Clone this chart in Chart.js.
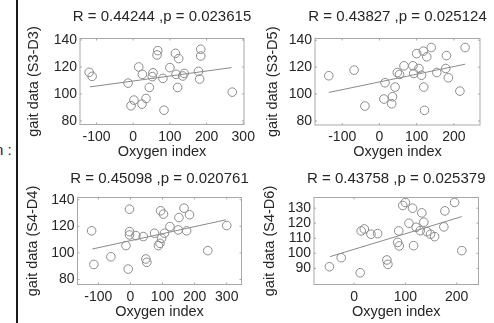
<!DOCTYPE html>
<html>
<head>
<meta charset="utf-8">
<script src="https://cdn.jsdelivr.net/npm/chart.js@4/dist/chart.umd.min.js"></script>
<style>
  body { margin: 0; background: #fff; width: 494px; height: 323px; position: relative; overflow: hidden;
         font-family: "Liberation Sans", Arial, sans-serif; }
  canvas { position: absolute; }
  #rule { position: absolute; left: 16px; top: 0; width: 2px; height: 323px; background: #1a1a1a; }
  #lbl { position: absolute; left: -5px; top: 141px; font-size: 15px; color: #222; }
</style>
</head>
<body>
<div id="rule"></div>
<div id="lbl">n :</div>
<canvas id="c1"></canvas>
<canvas id="c2"></canvas>
<canvas id="c3"></canvas>
<canvas id="c4"></canvas>
<script>
// S3-D3
const x1 = [-120, -112, -14, 15, 25, 2, -6, 24, 35, 44, 54, 52, 67, 65, 81, 84, 100, 115, 124, 117, 121, 139, 135, 178, 181, 184, 184, 270];
const y1 = [116, 113, 108, 120, 114.5, 95.4, 91.2, 92.4, 96.6, 104.8, 115.7, 112.8, 132.1, 128.9, 111.5, 87.9, 119.5, 130.1, 126.2, 114.5, 104.8, 115.2, 113.3, 116.7, 111, 133.1, 128.1, 101.3];
const fitX1 = [-118, 268];
const fitY1 = [105.2, 119.5];

// S3-D5
const x2 = [-136, -68, -39, 12, 15, 33, 35, 42, 48, 54, 66, 90, 92, 100, 106, 113, 118, 127, 119, 121, 139, 154, 180, 178, 185, 216, 230];
const y2 = [113.6, 117.8, 91.1, 96.3, 108.4, 92.8, 98, 105.2, 116, 114.6, 121, 121, 115.3, 130.1, 119, 114, 131.9, 127.7, 105.2, 87.9, 134.6, 116, 128.6, 119, 112.1, 102.2, 134.6];
const fitX2 = [-136, 230];
const fitY2 = [101.2, 122.2];

// S4-D4
const x3 = [-121, -114, -61, -14, -3, -7, -3, -3, 17, 40, 48, 51, 75, 87, 92, 94, 103, 97, 106, 123, 149, 151, 167, 175, 184, 241, 300];
const y3 = [116.6, 91.3, 97.1, 105.5, 132.9, 87.8, 116, 113.5, 113, 112.3, 95.4, 92.9, 114.8, 105.5, 107.2, 131.7, 129.2, 111, 114.8, 119.8, 117.3, 126.6, 133.7, 116.6, 128.7, 101.7, 120.6];
const fitX3 = [-119, 297];
const fitY3 = [102.9, 124.9];

// S4-D6
const x4 = [-48, -25, 12, 14, 20, 33, 46, 64, 66, 85, 88, 87, 95, 100, 107, 114, 116, 121, 129, 132, 136, 142, 149, 157, 175, 177, 196, 210];
const y4 = [91.1, 97.1, 87.1, 114.9, 116.2, 112.7, 113.1, 95.6, 92.7, 107.3, 104.9, 114.9, 131.8, 133.8, 120, 130, 105.1, 117.3, 115.1, 126.9, 120.7, 114.4, 112.7, 111.1, 117.6, 128.2, 133.8, 101.8];
const fitX4 = [-47, 210];
const fitY4 = [97.8, 124.4];

const titles = ['R = 0.44244 ,p = 0.023615', 'R = 0.43827 ,p = 0.025124', 'R = 0.45098 ,p = 0.020761', 'R = 0.43758 ,p = 0.025379'];
const yLabels = ['gait data (S3-D3)', 'gait data (S3-D5)', 'gait data (S4-D4)', 'gait data (S4-D6)'];
const xLabel = 'Oxygen index';
const xTicks1 = [-100, 0, 100, 200, 300];
const xTicks2 = [-100, 0, 100, 200];
const xTicks3 = [-100, 0, 100, 200, 300];
const xTicks4 = [0, 100, 200];
const yTicks1 = [80, 100, 120, 140];
const yTicks2 = [80, 100, 120, 140];
const yTicks3 = [80, 100, 120, 140];
const yTicks4 = [90, 100, 110, 120, 130];

Chart.defaults.font.family = '"Liberation Sans", Arial, sans-serif';
Chart.defaults.color = '#262626';

const GRAY = '#8a8a8a';
const AXIS_FONT = 14.5;

// box outline, inward tick marks and the R/p title
const frame = {
  id: 'frame',
  afterDatasetsDraw(chart, args, opts) {
    const { ctx, chartArea: a, scales } = chart;
    ctx.save();
    ctx.strokeStyle = '#a8a8a8';
    ctx.lineWidth = 1;
    ctx.strokeRect(a.left, a.top, a.right - a.left, a.bottom - a.top);
    ctx.beginPath();
    scales.x.ticks.forEach(t => {
      const px = scales.x.getPixelForValue(t.value);
      ctx.moveTo(px, a.bottom); ctx.lineTo(px, a.bottom - 2);
      ctx.moveTo(px, a.top); ctx.lineTo(px, a.top + 2);
    });
    scales.y.ticks.forEach(t => {
      const py = scales.y.getPixelForValue(t.value);
      ctx.moveTo(a.left, py); ctx.lineTo(a.left + 2, py);
      ctx.moveTo(a.right, py); ctx.lineTo(a.right - 2, py);
    });
    ctx.stroke();
    ctx.fillStyle = '#262626';
    ctx.font = '15px "Liberation Sans", Arial, sans-serif';
    ctx.textAlign = 'center';
    ctx.textBaseline = 'alphabetic';
    ctx.fillText(opts.title, (a.left + a.right) / 2, opts.ty);
    ctx.restore();
  }
};

function makePanel(id, cv, box, d) {
  const el = document.getElementById(id);
  el.width = cv.w; el.height = cv.h;
  el.style.left = cv.x + 'px'; el.style.top = cv.y + 'px';
  const LH = AXIS_FONT * 1.2;
  const padL = d.ytx - cv.x - LH / 2;
  const wY = box.l - cv.x - padL;
  const hX = d.xty + LH / 2 - box.b;

  new Chart(el, {
    type: 'scatter',
    data: {
      datasets: [
        {
          data: d.xs.map((x, i) => ({ x, y: d.ys[i] })),
          pointRadius: 4.3, pointHoverRadius: 4.3,
          borderColor: GRAY, backgroundColor: 'rgba(0,0,0,0)', borderWidth: 1,
          clip: false
        },
        {
          data: d.fx.map((x, i) => ({ x, y: d.fy[i] })),
          showLine: true, pointRadius: 0,
          borderColor: GRAY, borderWidth: 1, clip: false
        }
      ]
    },
    options: {
      responsive: false,
      animation: false,
      events: [],
      layout: {
        padding: {
          left: padL,
          top: box.t - cv.y,
          right: cv.x + cv.w - box.r,
          bottom: cv.y + cv.h - box.b - hX
        }
      },
      plugins: {
        legend: { display: false },
        tooltip: { enabled: false },
        frame: { title: d.title, ty: d.tty - cv.y }
      },
      scales: {
        x: {
          type: 'linear', min: d.xmin, max: d.xmax,
          grid: { display: false, drawTicks: false }, border: { display: false },
          ticks: { font: { size: 14 }, padding: 4, autoSkip: false, maxRotation: 0 },
          title: { display: true, text: xLabel, font: { size: AXIS_FONT }, padding: 0 },
          afterBuildTicks: s => { s.ticks = d.xt.map(v => ({ value: v })); },
          afterFit: s => { s.height = hX; s.paddingLeft = 0; s.paddingRight = 0; }
        },
        y: {
          type: 'linear', min: d.ymin, max: d.ymax,
          grid: { display: false, drawTicks: false }, border: { display: false },
          ticks: { font: { size: 14 }, padding: 3, autoSkip: false },
          title: { display: true, text: d.ylab, font: { size: AXIS_FONT }, padding: 0 },
          afterBuildTicks: s => { s.ticks = d.yt.map(v => ({ value: v })); },
          afterFit: s => { s.width = wY; s.paddingTop = 0; s.paddingBottom = 0; }
        }
      }
    },
    plugins: [frame]
  });
}

makePanel('c1', { x: 18, y: 0, w: 240, h: 162 }, { l: 80, r: 244, t: 38.5, b: 124.5 }, {
  xs: x1, ys: y1, fx: fitX1, fy: fitY1, xt: xTicks1, yt: yTicks1,
  xmin: -145, xmax: 302, ymin: 77.3, ymax: 141.1,
  title: titles[0], ylab: yLabels[0], ytx: 34, xty: 151.7, tty: 21
});
makePanel('c2', { x: 258, y: 0, w: 236, h: 162 }, { l: 315, r: 480, t: 38.5, b: 125 }, {
  xs: x2, ys: y2, fx: fitX2, fy: fitY2, xt: xTicks2, yt: yTicks2,
  xmin: -173, xmax: 270, ymin: 77, ymax: 141.3,
  title: titles[1], ylab: yLabels[1], ytx: 273, xty: 151.7, tty: 21
});
makePanel('c3', { x: 18, y: 162, w: 240, h: 161 }, { l: 77.5, r: 241.5, t: 197.5, b: 284.5 }, {
  xs: x3, ys: y3, fx: fitX3, fy: fitY3, xt: xTicks3, yt: yTicks3,
  xmin: -165, xmax: 346, ymin: 76.2, ymax: 141.7,
  title: titles[2], ylab: yLabels[2], ytx: 33, xty: 311.7, tty: 183
});
makePanel('c4', { x: 258, y: 162, w: 236, h: 161 }, { l: 314, r: 478.5, t: 197.5, b: 284.5 }, {
  xs: x4, ys: y4, fx: fitX4, fy: fitY4, xt: xTicks4, yt: yTicks4,
  xmin: -78, xmax: 242.5, ymin: 79.3, ymax: 137.1,
  title: titles[3], ylab: yLabels[3], ytx: 270, xty: 311.7, tty: 183
});
</script>
</body>
</html>
